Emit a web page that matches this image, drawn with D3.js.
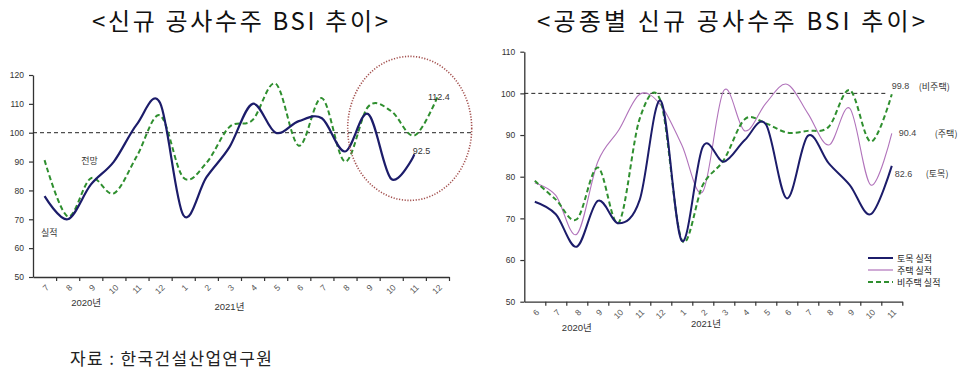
<!DOCTYPE html>
<html>
<head>
<meta charset="utf-8">
<script src="https://cdn.jsdelivr.net/npm/d3@7"></script>
<style>
  body { margin: 0; background: #fff; }
  svg text { font-family: "Liberation Sans", Arial, "Noto Sans CJK KR", sans-serif; fill: #333; }
  svg text.kr { font-family: "Noto Sans CJK KR", sans-serif; }
</style>
</head>
<body>
<svg id="chart" width="960" height="374"></svg>
<script>
// ---- left chart: 신규 공사수주 BSI (2020.7 ~ 2021.12)
const leftMonths = ["7","8","9","10","11","12","1","2","3","4","5","6","7","8","9","10","11","12"];
const leftActual = [78, 70, 82, 90, 103, 110.3, 71.5, 84.5, 95, 110, 100, 104, 105, 93.5, 106.5, 84, 92.5, null];
const leftOutlook = [90.5, 71, 84.2, 79, 92, 106, 84.5, 89.5, 102, 104.4, 117, 95.5, 112, 90, 109, 107.5, 99, 112.4];
const leftTicks = [50, 60, 70, 80, 90, 100, 110, 120];

// ---- right chart: 공종별 신규 공사수주 BSI (2020.6 ~ 2021.11)
const rightMonths = ["6","7","8","9","10","11","12","1","2","3","4","5","6","7","8","9","10","11"];
const civil = [74, 71, 63.2, 74.2, 68.8, 74.5, 98.2, 64.6, 87.2, 83.6, 88.8, 92.6, 74.8, 89.8, 83.2, 78, 71, 82.6];
const housing = [78.5, 75.5, 66.2, 83.6, 91.2, 99.8, 97.2, 87.6, 76.4, 100.7, 91, 97.6, 102.2, 95.2, 87.6, 96.4, 78, 90.4];
const nonHousing = [79, 74.5, 69.8, 82.2, 69, 94, 98, 64.8, 78, 84, 93.8, 92.8, 90.6, 91, 92, 100.8, 88.4, 99.8];
const rightTicks = [50, 60, 70, 80, 90, 100, 110];
const legendNames = ["토목 실적", "주택 실적", "비주택 실적"];
const endNames = ["(토목)", "(주택)", "(비주택)"];

const navy = "#1c1c6a", green = "#2f8f2f", purple = "#b173bb";

const svg = d3.select("#chart");

// titles
svg.append("text").attr("class", "kr")
    .attr("x", 240).attr("y", 19)
    .attr("text-anchor", "middle").attr("dominant-baseline", "central")
    .attr("font-size", 24).attr("textLength", 296).attr("lengthAdjust", "spacing")
    .style("fill", "#111")
    .text("<신규 공사수주 BSI 추이>");
svg.append("text").attr("class", "kr")
    .attr("x", 731).attr("y", 19)
    .attr("text-anchor", "middle").attr("dominant-baseline", "central")
    .attr("font-size", 24).attr("textLength", 388).attr("lengthAdjust", "spacing")
    .style("fill", "#111")
    .text("<공종별 신규 공사수주 BSI 추이>");

// source
svg.append("text").attr("class", "kr")
    .attr("x", 70).attr("y", 357)
    .attr("dominant-baseline", "central")
    .attr("font-size", 17).attr("textLength", 202).attr("lengthAdjust", "spacing")
    .style("fill", "#222")
    .text("자료 : 한국건설산업연구원");

const smooth = d3.curveCardinal.tension(0);

function drawFrame(g, x, xb, y, ticks, months, n, refEnd) {
    // y axis
    const ya = g.append("g")
        .attr("transform", `translate(${xb(0)},0)`)
        .call(d3.axisLeft(y).tickValues(ticks).tickSize(4).tickSizeOuter(0).tickPadding(5));
    ya.select(".domain").attr("stroke", "#333").attr("stroke-width", 1.3);
    ya.selectAll(".tick line").attr("stroke", "#333").attr("stroke-width", 1.2);
    ya.selectAll(".tick text").attr("font-size", 8.5).style("fill", "#333")
        .style("font-family", "Liberation Sans, Arial, sans-serif");

    // x axis (ticks on band boundaries)
    const y0 = y.range()[0];
    const xa = g.append("g")
        .attr("transform", `translate(0,${y0})`)
        .call(d3.axisBottom(xb).tickValues(d3.range(1, n + 1)).tickFormat("").tickSize(4).tickSizeOuter(0));
    xa.select(".domain").attr("stroke", "#333").attr("stroke-width", 1.3);
    xa.selectAll(".tick line").attr("stroke", "#333").attr("stroke-width", 1.2);

    // rotated month labels
    g.append("g").selectAll("text")
        .data(months)
        .join("text")
        .attr("transform", (d, i) => `translate(${x(i) + 3},${y0 + 9}) rotate(-45)`)
        .attr("text-anchor", "end")
        .attr("dominant-baseline", "central")
        .attr("font-size", 8.5)
        .style("fill", "#555")
        .text(d => d);

    // 100 reference line
    g.append("line")
        .attr("x1", xb(0)).attr("x2", refEnd)
        .attr("y1", y(100)).attr("y2", y(100))
        .attr("stroke", "#222").attr("stroke-width", 1)
        .attr("stroke-dasharray", "4,3");
}

function drawSeries(g, x, y, values, color, width, dash) {
    const line = d3.line()
        .defined(d => d != null)
        .x((d, i) => x(i))
        .y(d => y(d))
        .curve(smooth);
    g.append("path")
        .datum(values)
        .attr("d", line)
        .attr("fill", "none")
        .attr("stroke", color)
        .attr("stroke-width", width)
        .attr("stroke-dasharray", dash || null)
        .attr("stroke-linejoin", "round");
}

// ---------- left chart
{
    const n = leftMonths.length;
    const xb = d3.scaleLinear().domain([0, n]).range([33, 449]);
    const x = i => xb(i + 0.5);
    const y = d3.scaleLinear().domain([50, 120]).range([277, 75]);
    const g = svg.append("g");
    drawFrame(g, x, xb, y, leftTicks, leftMonths, n, xb(n + 1));

    g.append("text").attr("x", xb(2.3)).attr("y", 302)
        .attr("text-anchor", "middle").attr("dominant-baseline", "central")
        .attr("font-size", 9.5).style("fill", "#333").text("2020년");
    g.append("text").attr("x", xb(8.5)).attr("y", 306)
        .attr("text-anchor", "middle").attr("dominant-baseline", "central")
        .attr("font-size", 9.5).style("fill", "#333").text("2021년");

    drawSeries(g, x, y, leftOutlook, green, 2, "5,3");
    drawSeries(g, x, y, leftActual, navy, 2.2);

    // highlight ellipse
    g.append("ellipse")
        .attr("cx", x(15.8)).attr("cy", y(101.5))
        .attr("rx", 62).attr("ry", 72)
        .attr("fill", "none").attr("stroke", "#a3504e")
        .attr("stroke-width", 1.6).attr("stroke-dasharray", "1.2,1.6");

    const lastA = 16, lastO = 17;
    g.append("text").attr("x", x(lastA) - 1.5).attr("y", y(leftActual[lastA]) - 0.5)
        .attr("font-size", 9).text(leftActual[lastA]);
    g.append("text").attr("x", x(lastO) - 9.5).attr("y", y(leftOutlook[lastO]) + 3)
        .attr("font-size", 9).text(leftOutlook[lastO]);

    g.append("text").attr("class", "kr").attr("x", x(1.95)).attr("y", y(90.3))
        .attr("text-anchor", "middle").attr("dominant-baseline", "central")
        .attr("font-size", 9).style("fill", "#333").text("전망");
    g.append("text").attr("class", "kr").attr("x", x(0.2)).attr("y", y(65.5))
        .attr("text-anchor", "middle").attr("dominant-baseline", "central")
        .attr("font-size", 9).style("fill", "#333").text("실적");
}

// ---------- right chart
{
    const n = rightMonths.length;
    const xb = d3.scaleLinear().domain([0, n]).range([524.3, 902.3]);
    const x = i => xb(i + 0.5);
    const y = d3.scaleLinear().domain([50, 110]).range([301.7, 51.7]);
    const g = svg.append("g");
    drawFrame(g, x, xb, y, rightTicks, rightMonths, n, xb(n - 0.7));

    g.append("text").attr("x", xb(2.5)).attr("y", 327)
        .attr("text-anchor", "middle").attr("dominant-baseline", "central")
        .attr("font-size", 9.5).style("fill", "#333").text("2020년");
    g.append("text").attr("x", xb(8.65)).attr("y", 323)
        .attr("text-anchor", "middle").attr("dominant-baseline", "central")
        .attr("font-size", 9.5).style("fill", "#333").text("2021년");

    const series = [
        { values: civil, color: navy, width: 2, dash: null },
        { values: housing, color: purple, width: 1.1, dash: null },
        { values: nonHousing, color: green, width: 2, dash: "5,3" }
    ];
    drawSeries(g, x, y, housing, purple, 1.1);
    drawSeries(g, x, y, nonHousing, green, 2, "5,3");
    drawSeries(g, x, y, civil, navy, 2);

    // end labels
    const last = n - 1;
    const endOffsets = [[3, 31, 8], [7, 36, 0], [0, 27, -8]];
    series.forEach((s, k) => {
        const v = s.values[last];
        const yy = y(v) + endOffsets[k][2];
        g.append("text").attr("x", x(last) + endOffsets[k][0]).attr("y", yy)
            .attr("dominant-baseline", "central")
            .attr("font-size", 9).style("fill", "#444").text(v);
        g.append("text").attr("class", "kr")
            .attr("x", x(last) + endOffsets[k][0] + endOffsets[k][1]).attr("y", yy)
            .attr("dominant-baseline", "central")
            .attr("font-size", 9).style("fill", "#333").text(endNames[k]);
    });

    // legend
    const lg = g.append("g").attr("transform", "translate(868,258)");
    series.forEach((s, k) => {
        lg.append("line")
            .attr("x1", 0).attr("x2", 25)
            .attr("y1", k * 12).attr("y2", k * 12)
            .attr("stroke", s.color)
            .attr("stroke-width", k === 1 ? 1.2 : 2)
            .attr("stroke-dasharray", s.dash);
        lg.append("text").attr("class", "kr")
            .attr("x", 29).attr("y", k * 12)
            .attr("dominant-baseline", "central")
            .attr("font-size", 9).style("fill", "#222").text(legendNames[k]);
    });
}
</script>
</body>
</html>
